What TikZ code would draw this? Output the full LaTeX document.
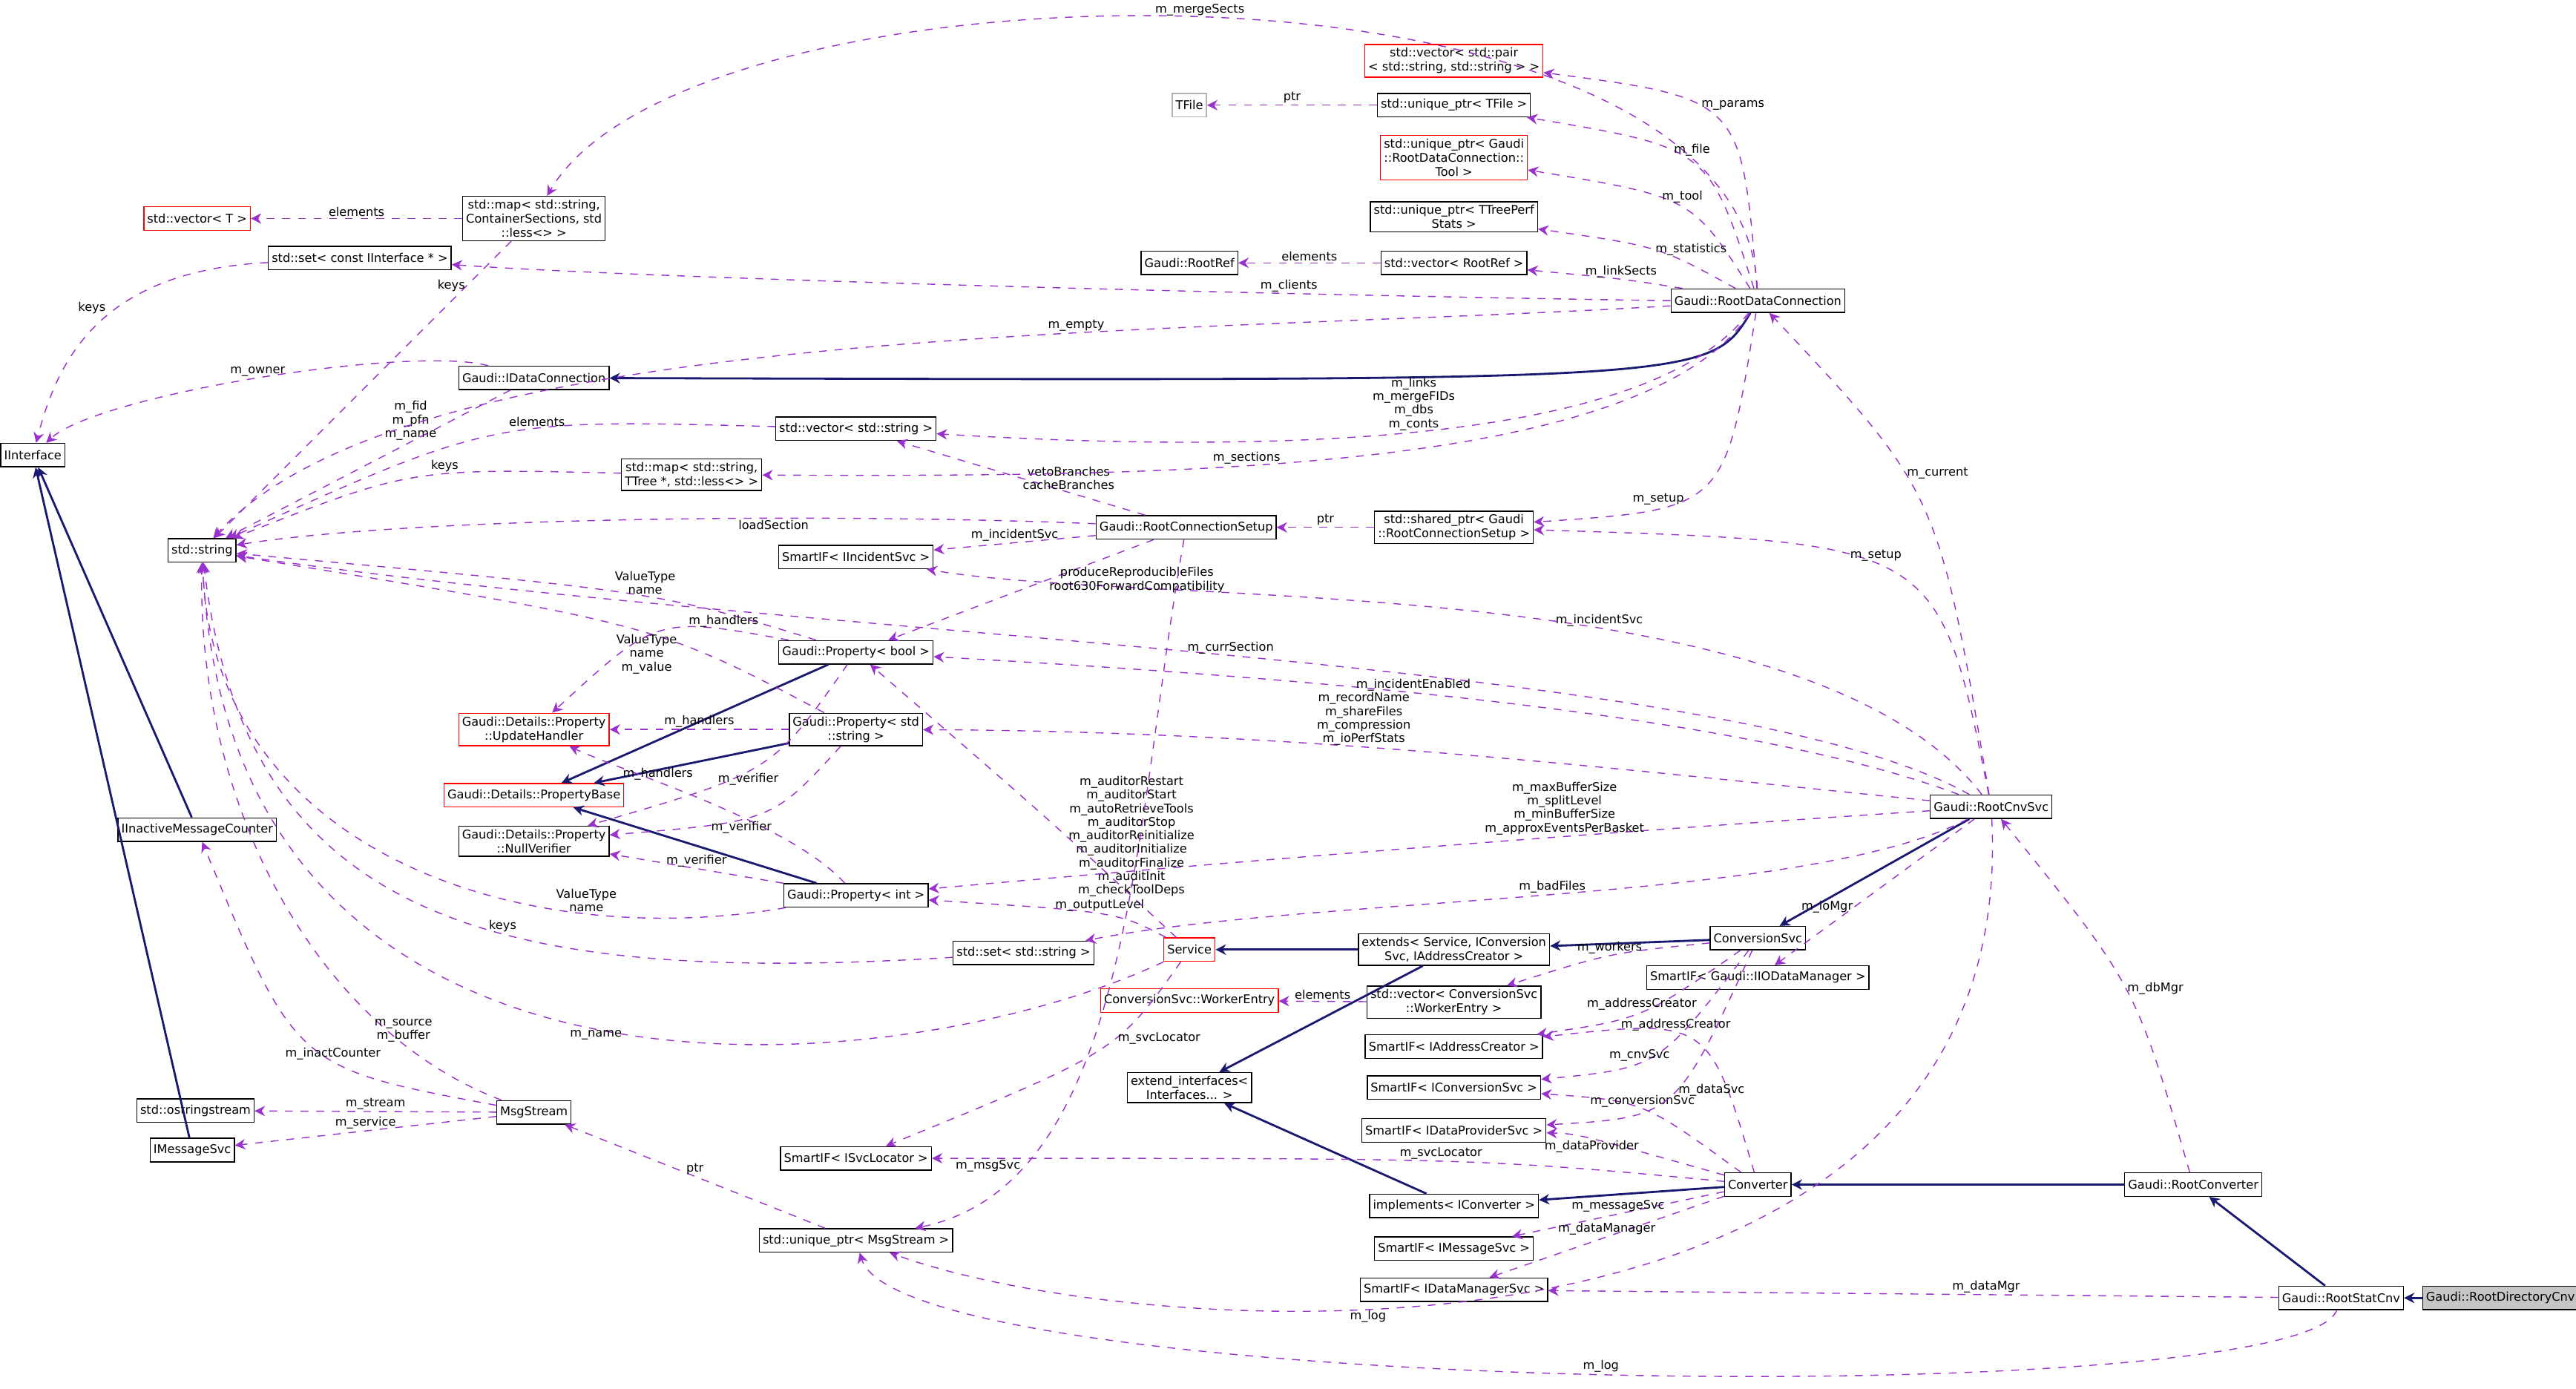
\documentclass[tikz,border=0pt]{standalone}
\usepackage{fontspec}
\setmainfont{DejaVu Sans}
\usetikzlibrary{arrows.meta}
\definecolor{inhc}{RGB}{25,25,112}
\definecolor{usec}{RGB}{153,50,204}
\tikzset{
  cls/.style={draw, fill=white, font=\fontsize{4.6}{5.4}\selectfont, inner sep=1.3pt, minimum height=9pt, align=center},
  redc/.style={cls, draw=red},
  grayc/.style={cls, draw=gray!60},
  inh/.style={draw=inhc, thick, -{Stealth[length=4pt,width=4pt]}},
  use/.style={draw=usec, dashed, -{Stealth[length=4pt,width=4pt]}},
  lbl/.style={font=\fontsize{4.6}{5.2}\selectfont, align=center, inner sep=0.5pt}
}
\begin{document}
\begin{tikzpicture}[x=0.02214cm,y=-0.02214cm]
\useasboundingbox (0,0) rectangle (1568,845);
% classes
\node[cls] (iif) at (20,277) {IInterface};
\node[cls] (str) at (123,335) {std::string};
\node[cls] (imc) at (120,505) {IInactiveMessageCounter};
\node[cls] (oss) at (119,676) {std::ostringstream};
\node[cls] (ims) at (117,700) {IMessageSvc};
\node[cls] (msg) at (325,677) {MsgStream};
\node[redc] (vect) at (120,133) {std::vector< T >};
\node[cls] (setif) at (219,157) {std::set< const IInterface * >};
\node[cls] (mapcs) at (325,133) {std::map< std::string,\\ContainerSections, std\\::less<> >};
\node[cls] (idc) at (325,230) {Gaudi::IDataConnection};
\node[cls] (vecs) at (521,261) {std::vector< std::string >};
\node[cls] (maptt) at (421,289) {std::map< std::string,\\TTree *, std::less<> >};
\node[cls] (sinc) at (521,339) {SmartIF< IIncidentSvc >};
\node[cls] (rcs) at (722,321) {Gaudi::RootConnectionSetup};
\node[cls] (pbool) at (521,397) {Gaudi::Property< bool >};
\node[redc] (uph) at (325,444) {Gaudi::Details::Property\\::UpdateHandler};
\node[cls] (pstr) at (521,444) {Gaudi::Property< std\\::string >};
\node[redc] (pbase) at (325,484) {Gaudi::Details::PropertyBase};
\node[cls] (nver) at (325,512) {Gaudi::Details::Property\\::NullVerifier};
\node[cls] (pint) at (521,545) {Gaudi::Property< int >};
\node[cls] (sets) at (623,580) {std::set< std::string >};
\node[redc] (svc) at (724,578) {Service};
\node[redc] (wke) at (724,609) {ConversionSvc::WorkerEntry};
\node[cls] (sloc) at (521,705) {SmartIF< ISvcLocator >};
\node[cls] (upms) at (521,755) {std::unique\_ptr< MsgStream >};
\node[cls] (ext) at (885,578) {extends< Service, IConversion\\Svc, IAddressCreator >};
\node[cls] (exti) at (724,662) {extend\_interfaces<\\Interfaces... >};
\node[cls] (vwke) at (885,610) {std::vector< ConversionSvc\\::WorkerEntry >};
\node[cls] (sac) at (885,637) {SmartIF< IAddressCreator >};
\node[cls] (scs) at (885,662) {SmartIF< IConversionSvc >};
\node[cls] (sdp) at (885,688) {SmartIF< IDataProviderSvc >};
\node[cls] (impl) at (885,734) {implements< IConverter >};
\node[cls] (smsg) at (885,760) {SmartIF< IMessageSvc >};
\node[cls] (sdm) at (885,785) {SmartIF< IDataManagerSvc >};
\node[cls] (conv) at (1070,721) {Converter};
\node[cls] (csvc) at (1070,571) {ConversionSvc};
\node[cls] (siod) at (1070,595) {SmartIF< Gaudi::IIODataManager >};
\node[cls] (rcnv) at (1212,491) {Gaudi::RootCnvSvc};
\node[cls] (rconv) at (1335,721) {Gaudi::RootConverter};
\node[cls] (rstat) at (1425,790) {Gaudi::RootStatCnv};
\node[cls, fill=gray!45] (rdir) at (1522,790) {Gaudi::RootDirectoryCnv};
\node[cls] (rdc) at (1070,183) {Gaudi::RootDataConnection};
\node[cls] (shp) at (885,321) {std::shared\_ptr< Gaudi\\::RootConnectionSetup >};
\node[grayc] (tfile) at (724,64) {TFile};
\node[cls] (uptf) at (885,64) {std::unique\_ptr< TFile >};
\node[redc] (vpair) at (885,37) {std::vector< std::pair\\< std::string, std::string > >};
\node[redc] (uptool) at (885,96) {std::unique\_ptr< Gaudi\\::RootDataConnection::\\Tool >};
\node[cls] (upts) at (885,132) {std::unique\_ptr< TTreePerf\\Stats >};
\node[cls] (rref) at (724,160) {Gaudi::RootRef};
\node[cls] (vref) at (885,160) {std::vector< RootRef >};
% inheritance
\draw[inh] (imc) -- (iif);
\draw[inh] (ims) -- (iif);
\draw[inh] (rdc) .. controls (1040,232) .. (idc);
\draw[inh] (pbool) -- (pbase);
\draw[inh] (pstr) -- (pbase);
\draw[inh] (pint) -- (pbase);
\draw[inh] (ext) -- (svc);
\draw[inh] (ext) -- (exti);
\draw[inh] (csvc) -- (ext);
\draw[inh] (rcnv) -- (csvc);
\draw[inh] (impl) -- (exti);
\draw[inh] (conv) -- (impl);
\draw[inh] (rconv) -- (conv);
\draw[inh] (rstat) -- (rconv);
\draw[inh] (rdir) -- (rstat);
% usage
\draw[use] (mapcs) -- node[lbl,above] {elements} (vect);
\draw[use] (setif) .. controls (60,165) and (35,220) .. node[lbl,pos=0.45,above left] {keys} (iif);
\draw[use] (mapcs) -- node[lbl,pos=0.15,left] {keys} (str);
\draw[use] (idc) .. controls (250,210) and (60,240) .. node[lbl,pos=0.5,above] {m\_owner} (iif);
\draw[use] (idc) -- node[lbl,pos=0.35,above] {m\_fid\\m\_pfn\\m\_name} (str);
\draw[use] (vecs) .. controls (300,255) .. node[lbl,pos=0.4,above] {elements} (str);
\draw[use] (maptt) .. controls (250,285) .. node[lbl,pos=0.4,above] {keys} (str);
\draw[use] (rcs) .. controls (500,312) and (250,315) .. node[lbl,pos=0.35,below] {loadSection} (str);
\draw[use] (pbool) .. controls (400,360) .. node[lbl,pos=0.45,above] {ValueType\\name} (str);
\draw[use] (pstr) .. controls (400,380) .. node[lbl,pos=0.45,below] {ValueType\\name\\m\_value} (str);
\draw[use] (pint) .. controls (320,580) and (130,520) .. node[lbl,pos=0.25,above] {ValueType\\name} (str);
\draw[use] (sets) .. controls (300,600) and (150,560) .. node[lbl,pos=0.4,above] {keys} (str);
\draw[use] (svc) .. controls (550,660) and (140,700) .. node[lbl,pos=0.5,below] {m\_name} (str);
\draw[use] (msg) .. controls (200,630) and (120,500) .. node[lbl,pos=0.2,above] {m\_source\\m\_buffer} (str);
\draw[use] (rdc) .. controls (700,205) and (250,195) .. node[lbl,pos=0.35,above] {m\_empty} (str);
\draw[use] (rcnv) .. controls (1050,400) and (500,390) .. node[lbl,pos=0.5,above] {m\_currSection} (str);
\draw[use] (msg) .. controls (180,650) .. node[lbl,pos=0.4,above] {m\_inactCounter} (imc);
\draw[use] (msg) -- node[lbl,above] {m\_stream} (oss);
\draw[use] (msg) -- node[lbl,above] {m\_service} (ims);
\draw[use] (upms) -- node[lbl,above] {ptr} (msg);
\draw[use] (rdc) .. controls (1060,-40) and (420,-30) .. node[lbl,pos=0.5,above] {m\_mergeSects} (mapcs);
\draw[use] (rdc.west) .. controls (800,180) and (400,170) .. node[lbl,pos=0.3,above] {m\_clients} (setif);
\draw[use] (rcs) -- node[lbl,pos=0.5,right] {vetoBranches\\cacheBranches} (vecs);
\draw[use] (rdc) .. controls (1000,275) and (750,275) .. node[lbl,pos=0.5,above] {m\_links\\m\_mergeFIDs\\m\_dbs\\m\_conts} (vecs);
\draw[use] (rdc) .. controls (1000,290) and (700,290) .. node[lbl,pos=0.6,above] {m\_sections} (maptt);
\draw[use] (rcs) -- node[lbl,above] {m\_incidentSvc} (sinc);
\draw[use] (rcnv) .. controls (1100,345) and (700,370) .. node[lbl,pos=0.4,above] {m\_incidentSvc} (sinc);
\draw[use] (rcs) -- node[lbl,pos=0.4,right] {produceReproducibleFiles\\root630ForwardCompatibility} (pbool);
\draw[use] (svc) .. controls (640,500) .. node[lbl,pos=0.4,right] {m\_auditorRestart\\m\_auditorStart\\m\_autoRetrieveTools\\m\_auditorStop\\m\_auditorReinitialize\\m\_auditorInitialize\\m\_auditorFinalize\\m\_auditInit\\m\_checkToolDeps} (pbool);
\draw[use] (rcnv) .. controls (1050,430) and (750,410) .. node[lbl,pos=0.55,above] {m\_incidentEnabled} (pbool);
\draw[use] (pbool) .. controls (400,375) .. node[lbl,pos=0.2,above] {m\_handlers} (uph);
\draw[use] (pstr) -- node[lbl,above] {m\_handlers} (uph);
\draw[use] (pint) .. controls (480,500) and (380,470) .. node[lbl,pos=0.65,above] {m\_handlers} (uph);
\draw[use] (pbool) .. controls (470,470) .. node[lbl,pos=0.55,below] {m\_verifier} (nver);
\draw[use] (pstr) .. controls (470,500) .. node[lbl,pos=0.6,below] {m\_verifier} (nver);
\draw[use] (pint) -- node[lbl,pos=0.5,above] {m\_verifier} (nver);
\draw[use] (rcnv) .. controls (1000,470) and (800,445) .. node[lbl,pos=0.6,above] {m\_recordName\\m\_shareFiles\\m\_compression\\m\_ioPerfStats} (pstr);
\draw[use] (rcnv) .. controls (1000,505) and (800,520) .. node[lbl,pos=0.4,above] {m\_maxBufferSize\\m\_splitLevel\\m\_minBufferSize\\m\_approxEventsPerBasket} (pint);
\draw[use] (svc) .. controls (680,555) .. node[lbl,pos=0.5,above] {m\_outputLevel} (pint);
\draw[use] (rcnv) .. controls (1100,550) and (800,545) .. node[lbl,pos=0.5,above] {m\_badFiles} (sets);
\draw[use] (svc) .. controls (680,640) .. node[lbl,pos=0.4,right] {m\_svcLocator} (sloc);
\draw[use] (conv) .. controls (900,705) .. node[lbl,pos=0.5,above] {m\_svcLocator} (sloc);
\draw[use] (rcs) .. controls (690,500) and (690,720) .. node[lbl,pos=0.8,left] {m\_msgSvc} (upms);
\draw[use] (rcnv) .. controls (1230,850) and (700,820) .. node[lbl,pos=0.62,below] {m\_log} (upms);
\draw[use] (rstat) .. controls (1400,860) and (550,850) .. node[lbl,pos=0.5,above] {m\_log} (upms);
\draw[use] (shp) -- node[lbl,above] {ptr} (rcs);
\draw[use] (rdc) .. controls (1050,310) .. node[lbl,pos=0.6,left] {m\_setup} (shp);
\draw[use] (rcnv) .. controls (1180,330) .. node[lbl,pos=0.55,above] {m\_setup} (shp);
\draw[use] (rcnv) .. controls (1180,300) .. node[lbl,pos=0.6,right] {m\_current} (rdc);
\draw[use] (rdc) .. controls (1060,60) .. node[lbl,pos=0.6,right] {m\_params} (vpair);
\draw[use] (uptf) -- node[lbl,above] {ptr} (tfile);
\draw[use] (rdc) .. controls (1040,90) .. node[lbl,pos=0.6,right] {m\_file} (uptf);
\draw[use] (rdc) .. controls (1030,120) .. node[lbl,pos=0.6,right] {m\_tool} (uptool);
\draw[use] (rdc) .. controls (1010,150) .. node[lbl,pos=0.5,right] {m\_statistics} (upts);
\draw[use] (rdc) .. controls (990,170) .. node[lbl,pos=0.5,above] {m\_linkSects} (vref);
\draw[use] (vref) -- node[lbl,above] {elements} (rref);
\draw[use] (vwke) -- node[lbl,above] {elements} (wke);
\draw[use] (csvc) .. controls (980,580) .. node[lbl,pos=0.5,above] {m\_workers} (vwke);
\draw[use] (csvc) .. controls (1000,620) .. node[lbl,pos=0.5,above] {m\_addressCreator} (sac);
\draw[use] (conv) .. controls (1040,620) .. node[lbl,pos=0.6,above] {m\_addressCreator} (sac);
\draw[use] (csvc) .. controls (1010,650) .. node[lbl,pos=0.6,above] {m\_cnvSvc} (scs);
\draw[use] (conv) .. controls (1000,670) .. node[lbl,pos=0.5,above] {m\_conversionSvc} (scs);
\draw[use] (csvc) .. controls (1020,680) .. node[lbl,pos=0.45,right] {m\_dataSvc} (sdp);
\draw[use] (conv) .. controls (960,690) .. node[lbl,pos=0.5,below] {m\_dataProvider} (sdp);
\draw[use] (conv) -- node[lbl,pos=0.5,above] {m\_messageSvc} (smsg);
\draw[use] (conv) -- node[lbl,pos=0.5,above] {m\_dataManager} (sdm);
\draw[use] (rstat) -- node[lbl,pos=0.4,above] {m\_dataMgr} (sdm);
\draw[use] (rcnv) -- node[lbl,pos=0.6,left] {m\_ioMgr} (siod);
\draw[use] (rconv) .. controls (1300,600) .. node[lbl,pos=0.5,right] {m\_dbMgr} (rcnv);
\end{tikzpicture}
\end{document}
